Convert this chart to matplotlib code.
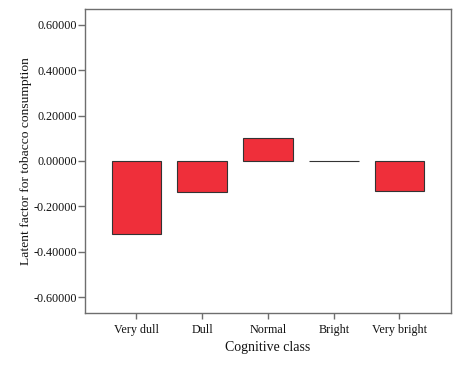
import matplotlib
matplotlib.use("Agg")
import matplotlib.pyplot as plt

# cognitive classes and the latent factor values
classes = ["Very dull", "Dull", "Normal", "Bright", "Very bright"]
latent_factor = [-0.321, -0.138, 0.102, 0.002, -0.130]
y_ticks = [-0.6, -0.4, -0.2, 0.0, 0.2, 0.4, 0.6]

plt.rcParams["font.family"] = ["Liberation Serif", "DejaVu Serif"]

fig = plt.figure(figsize=(4.6, 3.69), dpi=100, facecolor="white")
ax = fig.add_axes([0.185, 0.1526, 0.795, 0.8222])

x = list(range(len(classes)))
ax.bar(x, latent_factor, width=0.755, color="#EF2F3A", edgecolor="#333333", linewidth=0.8)

ax.set_xlim(-0.78, 4.78)
ax.set_ylim(-0.667, 0.667)
ax.set_yticks(y_ticks)
ax.set_yticklabels(["%.5f" % v for v in y_ticks])
ax.set_xticks(x)
ax.set_xticklabels(classes)

for s in ax.spines.values():
    s.set_color("#6e6e6e")
    s.set_linewidth(1.0)
ax.tick_params(axis="both", colors="#6e6e6e", labelcolor="#111111", labelsize=8.7, width=1.0)
ax.tick_params(axis="y", length=5, pad=1)
ax.tick_params(axis="x", length=4, pad=4)

ax.set_xlabel("Cognitive class", fontsize=10, color="#111111", labelpad=4)
ax.set_ylabel("Latent factor for tobacco consumption", fontsize=9.7, color="#111111", labelpad=1)

fig.savefig("out.png", dpi=100, facecolor="white")
